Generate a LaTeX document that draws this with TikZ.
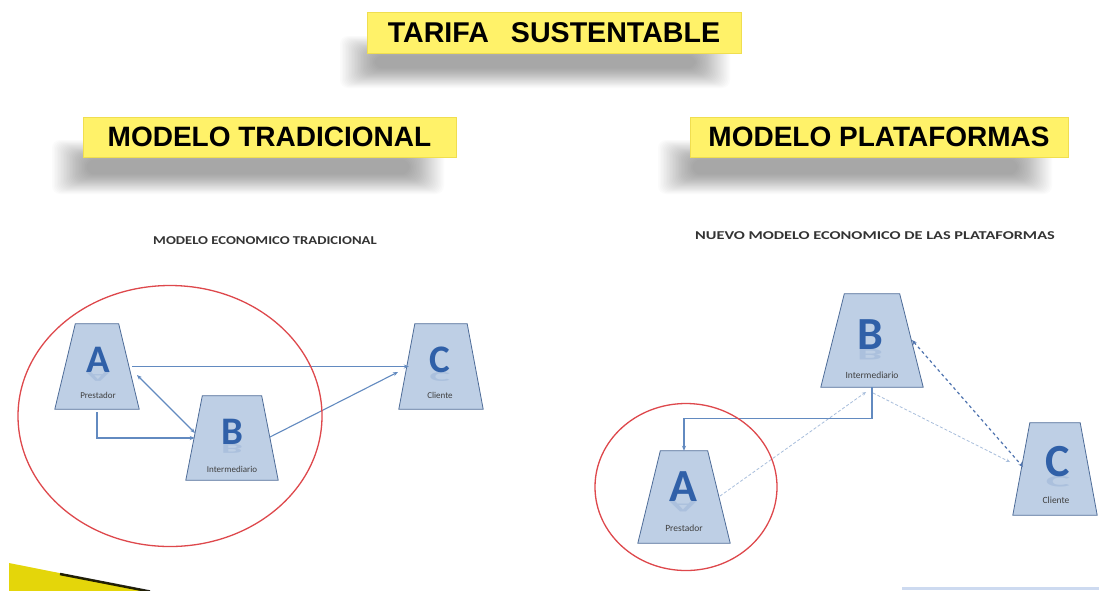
\documentclass[tikz,border=0pt]{standalone}
\usepackage{fontspec}
\setmainfont{Liberation Sans}
\newfontfamily\calfont{Carlito}
\usetikzlibrary{shapes.geometric,arrows.meta,calc}
\definecolor{ybox}{RGB}{255,242,105}
\definecolor{yedge}{RGB}{240,222,80}
\definecolor{tfill}{RGB}{190,207,229}
\definecolor{tdraw}{RGB}{78,108,152}
\definecolor{letterc}{RGB}{48,96,168}
\definecolor{arrc}{RGB}{98,138,192}
\definecolor{darrc}{RGB}{78,115,175}
\definecolor{larrc}{RGB}{168,190,220}
\definecolor{redc}{RGB}{222,72,76}
\definecolor{swoosh}{RGB}{228,214,10}
\definecolor{lineblue}{RGB}{205,218,240}
\newcommand{\softshadow}[4]{%
  \foreach \k in {0,...,23}{%
    \fill[black,opacity=0.014,rounded corners=8pt] ({#1+\k*1.5},{#2+\k*0.85}) rectangle ({#3-\k*1.5},{#4-\k*0.85});}}
% name, cx, cy, bottom width, top width, height
\newcommand{\trapz}[6]{%
  \node[inner sep=0pt,minimum width=#4pt,minimum height=#6pt] (#1) at (#2,#3) {};
  \filldraw[draw=tdraw,fill=tfill,line width=0.8pt] (#1.south west) -- ($(#1.north west)+({(#4-#5)/2},0)$)
     -- ($(#1.north east)-({(#4-#5)/2},0)$) -- (#1.south east) -- cycle;}
\tikzset{
  ybanner/.style={fill=ybox,draw=yedge,line width=0.6pt,inner sep=0pt,font=\bfseries\fontsize{28}{30}\selectfont},
  bigletter/.style={text=letterc,font=\calfont\bfseries\fontsize{#1}{#1}\selectfont,inner sep=0pt},
  reflect/.style={text=letterc,opacity=0.13,yscale=-0.35,transform shape,font=\calfont\bfseries\fontsize{#1}{#1}\selectfont,inner sep=0pt},
  smalllabel/.style={text=black!75,font=\calfont\fontsize{#1}{#1}\selectfont,inner sep=0pt},
  subtitle/.style={text=black!80,font=\calfont\bfseries\fontsize{12}{14}\selectfont,inner sep=0pt,xscale=#1,transform shape},
  conn/.style={draw=arrc,line width=1.1pt,-{Stealth[length=5pt,width=4pt]}},
  conn2/.style={draw=arrc,line width=1.1pt,{Stealth[length=5pt,width=4pt]}-{Stealth[length=5pt,width=4pt]}},
  dconn/.style={draw=darrc,line width=1.2pt,dashed,{Stealth[length=5pt,width=4pt]}-{Stealth[length=5pt,width=4pt]}},
  lconn/.style={draw=larrc,line width=0.8pt,dash pattern=on 3pt off 2pt,-{Stealth[length=4pt,width=3.5pt]}},
  redring/.style={ellipse,draw=redc,line width=1.3pt,inner sep=0pt}
}
\begin{document}
\begin{tikzpicture}[x=1pt,y=-1pt]
\useasboundingbox (0,0) rectangle (1099,590);
\fill[white] (0,0) rectangle (1099,590);
% shadows
\softshadow{340}{36}{730}{88}
\softshadow{52}{140}{444}{194}
\softshadow{658}{140}{1052}{194}
% banners
\node[ybanner,minimum width=374pt,minimum height=41pt,font=\bfseries\fontsize{28.6}{30}\selectfont] (title) at (554,32.5) {TARIFA\hspace{22pt}SUSTENTABLE};
\node[ybanner,minimum width=373pt,minimum height=40pt] (mt) at (269.5,137) {MODELO TRADICIONAL};
\node[ybanner,minimum width=378pt,minimum height=40pt] (mp) at (879,137) {MODELO PLATAFORMAS};
% subtitles
\node[subtitle=1.22] (st1) at (265,241) {MODELO ECONOMICO TRADICIONAL};
\node[subtitle=1.36] (st2) at (875,236) {NUEVO MODELO ECONOMICO DE LAS PLATAFORMAS};
% left diagram
\trapz{A}{97}{366.5}{84}{43}{85}
\trapz{B}{232}{438}{92}{59}{84}
\trapz{C}{441}{366.5}{84}{52}{85}
\node[bigletter=39] (Al) at (98,360) {A};
\node[reflect=39] (Ar) at (98,377) {A};
\node[smalllabel=9] (At) at (98,395) {Prestador};
\node[bigletter=39] (Bl) at (232,432) {B};
\node[reflect=39] (Br) at (232,449) {B};
\node[smalllabel=9] (Bt) at (232,469) {Intermediario};
\node[bigletter=39] (Cl) at (440,360) {C};
\node[reflect=39] (Cr) at (440,377) {C};
\node[smalllabel=9] (Ct) at (440,395) {Cliente};
\draw[conn] ($(A.east)+(-7,0)$) -- ($(C.west)+(10,0)$);
\draw[conn2] ($(A.center)+(40,8.5)$) -- ($(B.center)+(-37,-5)$);
\draw[conn] ($(A.south)+(0,3)$) |- ($(B.west)+(9,0)$);
\draw[conn] ($(B.center)+(38,-1)$) -- ($(C.center)+(-43,5.5)$);
\node[redring,minimum width=304pt,minimum height=261pt] (e1) at (170,416) {};
% right diagram
\trapz{rB}{872}{340.5}{102}{55}{93}
\trapz{rA}{684}{497}{92}{47}{92}
\trapz{rC}{1055}{469}{84}{50}{92}
\node[bigletter=46] (rBl) at (870,335) {B};
\node[reflect=46] (rBr) at (870,355) {B};
\node[smalllabel=9.5] (rBt) at (872,375) {Intermediario};
\node[bigletter=46] (rAl) at (683,487) {A};
\node[reflect=46] (rAr) at (683,507) {A};
\node[smalllabel=9.5] (rAt) at (684,528) {Prestador};
\node[bigletter=46] (rCl) at (1058,462) {C};
\node[reflect=46] (rCr) at (1058,482) {C};
\node[smalllabel=9.5] (rCt) at (1056,500) {Cliente};
\draw[conn] (rB.south) -- ++(0,31) -| (rA.north);
\draw[lconn] ($(rA.center)+(36,-1)$) -- ($(rB.center)+(-6,51.5)$);
\draw[lconn] ($(rB.center)+(1,52.5)$) -- ($(rC.center)+(-45,-7)$);
\draw[dconn] ($(rB.center)+(40,-0.5)$) -- ($(rC.center)+(-32,-2)$);
\node[redring,minimum width=182pt,minimum height=167pt] (e2) at (686,487) {};
% decorations
\fill[swoosh] (9,563) -- (150,591) -- (9,591) -- cycle;
\draw[black,line width=2.5pt,opacity=0.85] (60,574) -- (150,591.5);
\draw[lineblue,line width=2.5pt] (902,588.5) -- (1099,588.5);
\end{tikzpicture}
\end{document}
